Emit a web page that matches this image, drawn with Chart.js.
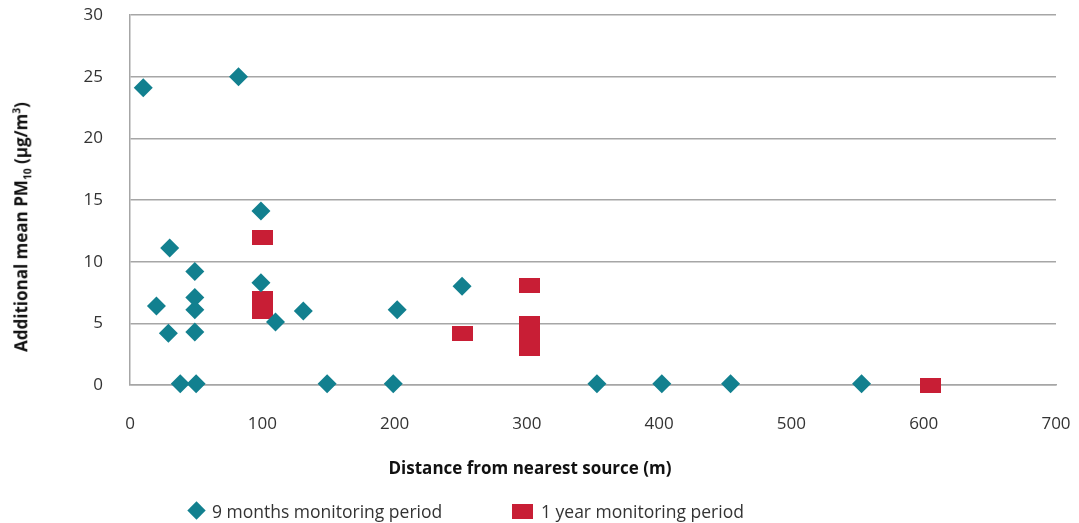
<!DOCTYPE html>
<html>
<head>
<meta charset="utf-8">
<script src="https://cdn.jsdelivr.net/npm/chart.js@4/dist/chart.umd.min.js"></script>
<style>
  html, body { margin: 0; padding: 0; background: #fff; }
  #wrap { position: relative; width: 1079px; height: 523px; }
  #legend {
    position: absolute; left: 0; top: 500px; width: 1079px; height: 22px;
    font-family: "Open Sans", sans-serif; font-size: 17.5px; color: #333;
  }
  .item { position: absolute; top: 0; line-height: 22px; white-space: nowrap; }
  .diamond {
    position: absolute; width: 13px; height: 13px; background: #12808f;
    transform: rotate(45deg); top: 4px;
  }
  .rect { position: absolute; width: 21px; height: 15px; background: #c81e35; top: 4px; }
  .title {
    position: absolute; width: 0; height: 0;
  }
  .title span {
    position: absolute; white-space: nowrap; font-family: "Open Sans", sans-serif;
    font-weight: bold; font-size: 17px; color: #111;
  }
  #ytitle { left: 22px; top: 227px; }
  #ytitle span { transform: translate(-50%, -50%) rotate(-90deg); }
  #xtitle { left: 530px; top: 467px; }
  #xtitle span { transform: translate(-50%, -50%); }
</style>
</head>
<body>
<div id="wrap">
  <canvas id="chart" width="1079" height="523"></canvas>
  <div class="title" id="ytitle"><span>Additional mean PM<sub style="font-size:60%">10</sub> (µg/m<sup style="font-size:60%">3</sup>)</span></div>
  <div class="title" id="xtitle"><span>Distance from nearest source (m)</span></div>
  <div id="legend">
    <span class="diamond" style="left:190px"></span>
    <span class="item" style="left:212px">9 months monitoring period</span>
    <span class="rect" style="left:512px"></span>
    <span class="item" style="left:541px">1 year monitoring period</span>
  </div>
</div>
<script>
// distance from nearest source (m) / additional mean PM10 (µg/m³)
const nineMonthX = [10, 82, 30, 20, 29, 49, 49, 49, 49, 38, 50, 99, 99, 110, 131, 149, 199, 202, 251, 353, 402, 454, 553];
const nineMonthY = [24.1, 25, 11.1, 6.4, 4.2, 9.2, 7.1, 6.1, 4.3, 0.1, 0.1, 14.1, 8.3, 5.1, 6.0, 0.1, 0.1, 6.1, 8.0, 0.1, 0.1, 0.1, 0.1];
const oneYearX = [100, 100, 100, 251, 302, 302, 302, 302, 605];
const oneYearY = [12, 7, 6, 4.2, 8.1, 5, 4, 3, 0];

const seriesLabels = ["9 months monitoring period", "1 year monitoring period"];
const xTicks = [0, 100, 200, 300, 400, 500, 600, 700];
const yTicks = [0, 5, 10, 15, 20, 25, 30];

const teal = "#12808f";
const red = "#c81e35";
const gridGrey = "#a6a6a6";

// red marker is a flat rectangle, not a square
const redMark = document.createElement("canvas");
redMark.width = 21;
redMark.height = 15;
const rctx = redMark.getContext("2d");
rctx.fillStyle = red;
rctx.fillRect(0, 0, 21, 15);

function toPoints(xs, ys) {
  return xs.map((x, i) => ({ x: x, y: ys[i] }));
}

new Chart(document.getElementById("chart"), {
  type: "scatter",
  data: {
    datasets: [
      {
        label: seriesLabels[0],
        data: toPoints(nineMonthX, nineMonthY),
        pointStyle: "rectRot",
        pointRadius: 9.5,
        pointHoverRadius: 9.5,
        backgroundColor: teal,
        borderWidth: 0,
        clip: false,
      },
      {
        label: seriesLabels[1],
        data: toPoints(oneYearX, oneYearY),
        pointStyle: redMark,
        pointRadius: 10,
        backgroundColor: red,
        borderWidth: 0,
        clip: false,
      },
    ],
  },
  options: {
    responsive: false,
    animation: false,
    layout: { padding: { top: 15, right: 23, bottom: 0, left: 0 } },
    plugins: {
      legend: { display: false },
      tooltip: { enabled: false },
    },
    scales: {
      x: {
        type: "linear",
        min: 0,
        max: 700,
        afterBuildTicks: (s) => { s.ticks = xTicks.map((v) => ({ value: v })); },
        afterFit: (s) => {
          // big tick padding should not eat into the plot width
          s.height = 138;
          s.paddingLeft = 10;
          s.paddingRight = 10;
        },
        grid: { display: false, drawTicks: false },
        border: { display: true, color: gridGrey, width: 1.5 },
        ticks: {
          padding: 29,
          color: "#333",
          font: { family: "Open Sans", size: 17 },
          maxRotation: 0,
        },
      },
      y: {
        min: 0,
        max: 30,
        afterBuildTicks: (s) => { s.ticks = yTicks.map((v) => ({ value: v })); },
        afterFit: (s) => {
          s.width = 130;
          s.paddingTop = 8;
          s.paddingBottom = 8;
        },
        grid: { color: gridGrey, lineWidth: 1.5, drawTicks: false },
        border: { display: true, color: gridGrey, width: 1.5 },
        ticks: {
          padding: 27,
          color: "#333",
          font: { family: "Open Sans", size: 17 },
        },
      },
    },
  },
});
</script>
</body>
</html>
